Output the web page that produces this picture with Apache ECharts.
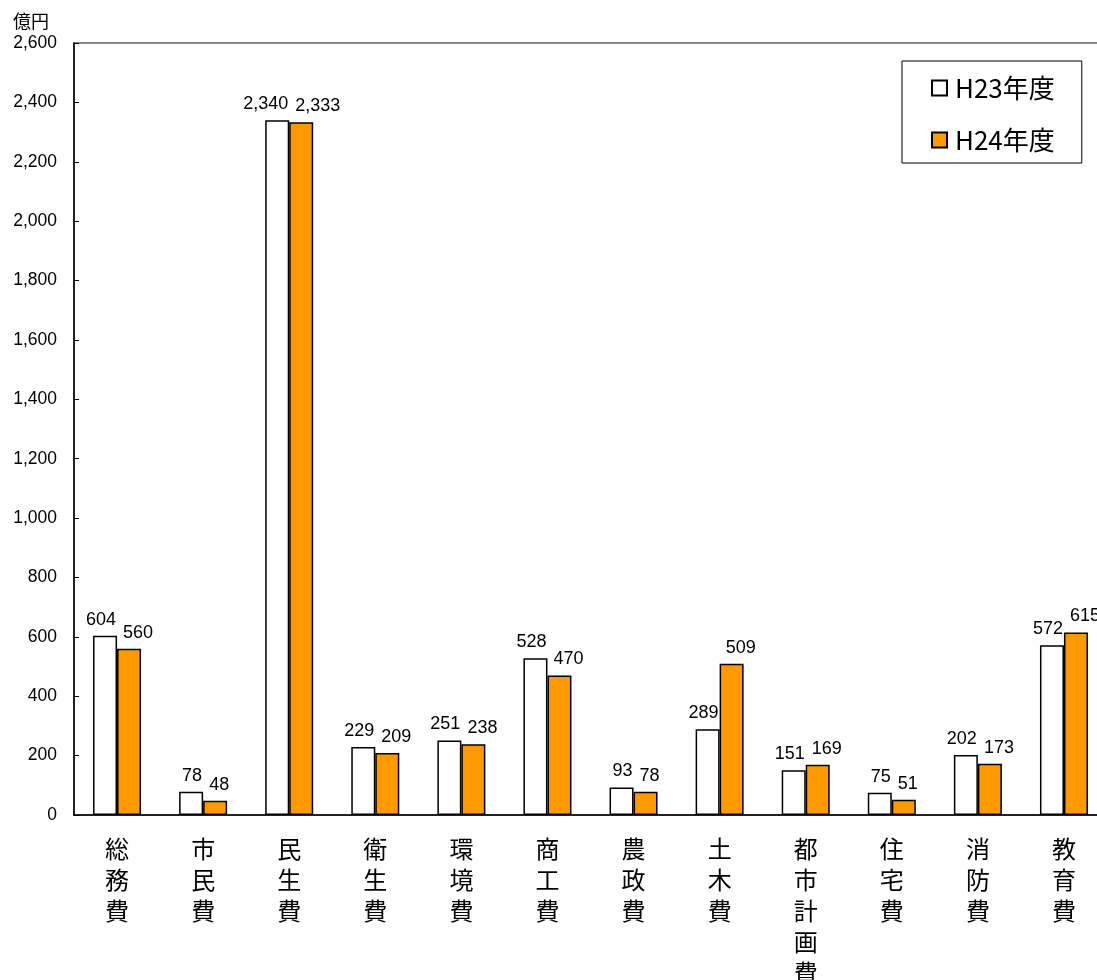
<!DOCTYPE html>
<html>
<head>
<meta charset="utf-8">
<script src="https://cdn.jsdelivr.net/npm/echarts@6/dist/echarts.min.js"></script>
<style>
html,body{margin:0;padding:0;background:#fff;width:1097px;height:980px;overflow:hidden;}
#chart{width:1110px;height:980px;}
</style>
</head>
<body>
<div id="chart"></div>
<script>
const categories = ['総務費','市民費','民生費','衛生費','環境費','商工費','農政費','土木費','都市計画費','住宅費','消防費','教育費'];
const seriesNames = ['H23年度','H24年度'];
const valuesH23 = [604, 78, 2340, 229, 251, 528, 93, 289, 151, 75, 202, 572];
const valuesH24 = [560, 48, 2333, 209, 238, 470, 78, 509, 169, 51, 173, 615];
const yTickValues = [0, 200, 400, 600, 800, 1000, 1200, 1400, 1600, 1800, 2000, 2200, 2400, 2600];
const unitLabel = '億円';

const chart = echarts.init(document.getElementById('chart'), null, {renderer:'canvas'});
const fmt = v => Number(v).toLocaleString('en-US');
const labelBase = {
  show: true, position: 'top', distance: 7, color: '#000',
  fontFamily: '"Liberation Sans", Arial, sans-serif',
  fontSize: 18,
  formatter: p => fmt(p.value)
};
chart.setOption({
  animation: false,
  backgroundColor: '#fff',
  title: {
    text: unitLabel, left: 8, top: 7,
    textStyle: {fontSize: 18, fontWeight: 'normal', color: '#000', fontFamily: '"Noto Sans CJK JP", sans-serif'}
  },
  grid: {
    left: 74, top: 43, right: 3, height: 772,
    outerBoundsMode: 'none', containLabel: false,
    show: true, borderColor: '#888', borderWidth: 2, backgroundColor: 'transparent'
  },
  legend: {
    orient: 'vertical', left: 902, top: 61,
    padding: [12, 27, 8, 29],
    borderColor: '#000', borderWidth: 1, backgroundColor: '#fff',
    itemWidth: 15, itemHeight: 15, itemGap: 22,
    icon: 'rect',
    textStyle: {fontSize: 26, color: '#000', fontFamily: '"Noto Sans CJK JP", sans-serif', lineHeight: 30, padding: [0,0,0,3]},
    data: seriesNames
  },
  xAxis: {
    type: 'category', data: categories,
    axisLine: {lineStyle: {color: '#000', width: 1.5}},
    axisTick: {show: false},
    axisLabel: {
      interval: 0, margin: 18, color: '#000', fontSize: 24, lineHeight: 31,
      fontFamily: '"Noto Sans CJK JP", sans-serif',
      formatter: v => v.split('').join('\n')
    }
  },
  yAxis: {
    type: 'value', min: yTickValues[0], max: yTickValues[yTickValues.length-1], interval: yTickValues[1]-yTickValues[0],
    axisLine: {show: true, lineStyle: {color: '#000', width: 1.5}},
    axisTick: {show: true, inside: true, length: 5, lineStyle: {color: '#000', width: 1}},
    splitLine: {show: false},
    axisLabel: {
      margin: 17, color: '#000', fontSize: 17.5,
      fontFamily: '"Liberation Sans", Arial, sans-serif',
      formatter: v => fmt(v)
    }
  },
  series: [
    {
      name: seriesNames[0], type: 'bar', data: valuesH23,
      barWidth: 24, barGap: '0%',
      itemStyle: {color: '#fff', borderColor: '#000', borderWidth: 1.5},
      label: Object.assign({}, labelBase, {align: 'right', offset: [11, 0]})
    },
    {
      name: seriesNames[1], type: 'bar', data: valuesH24,
      barWidth: 24,
      itemStyle: {color: '#FF9900', borderColor: '#000', borderWidth: 1.5},
      label: Object.assign({}, labelBase, {align: 'left', offset: [-6, 0]})
    }
  ]
});
</script>
</body>
</html>
